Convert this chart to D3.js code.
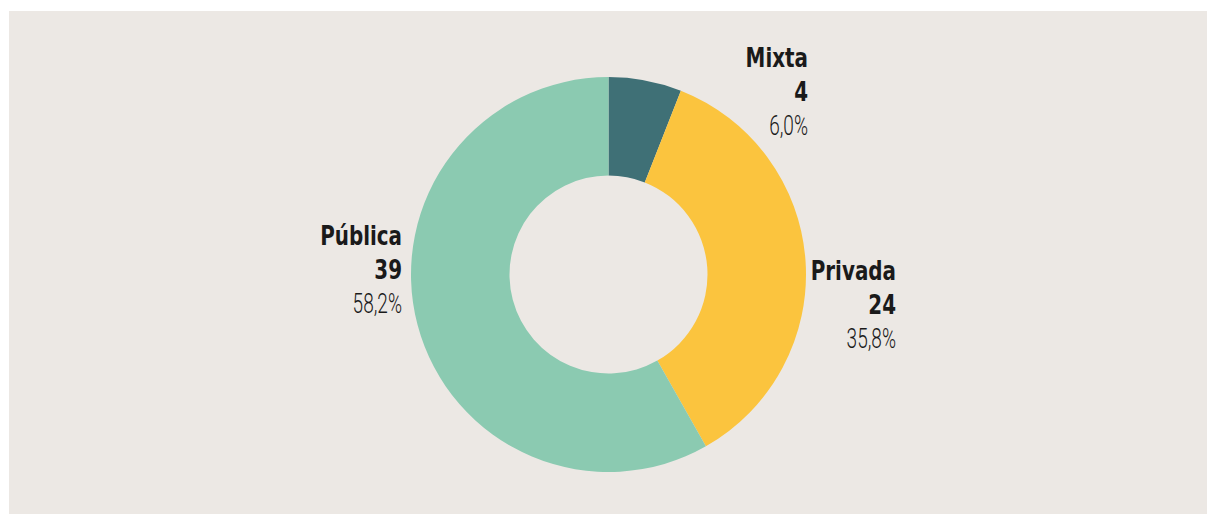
<!DOCTYPE html>
<html>
<head>
<meta charset="utf-8">
<script src="https://cdn.jsdelivr.net/npm/d3@7"></script>
<style>
  body { margin: 0; background: #ffffff; }
  svg { display: block; }
  text { font-family: "DejaVu Sans Condensed", "DejaVu Sans", sans-serif; }
  text.pct { font-family: "Roboto", "DejaVu Sans Condensed", sans-serif; }
</style>
</head>
<body>
<div id="chart"></div>
<script>
// donnees
const categories = ["Mixta", "Privada", "Pública"];
const valeurs = [4, 24, 39];
const pourcentages = ["6,0%", "35,8%", "58,2%"];
const couleurs = ["#3f7076", "#fbc43e", "#8bcab1"];

const W = 1208, H = 514;
const cx = 608.5, cy = 274.5;
const rOut = 197.5, rIn = 99;

const svg = d3.select("#chart").append("svg")
  .attr("width", W).attr("height", H);

// fond
svg.append("rect")
  .attr("x", 9).attr("y", 11)
  .attr("width", W - 10).attr("height", H - 11)
  .attr("fill", "#ece8e4");

const g = svg.append("g").attr("transform", `translate(${cx},${cy})`);

const data = categories.map((c, i) => ({ cat: c, val: valeurs[i], pct: pourcentages[i] }));

const pie = d3.pie().sort(null).value(d => d.val);
const arc = d3.arc().innerRadius(rIn).outerRadius(rOut);
const arcs = pie(data);

g.selectAll("path")
  .data(arcs)
  .join("path")
  .attr("d", arc)
  .attr("fill", (d, i) => couleurs[i]);

// etiquettes : ancrage a droite
function labelPos(d) {
  const a = (d.startAngle + d.endAngle) / 2;
  if (d.index === 0) return [199.5, -207.5];   // Mixta, au-dessus
  if (Math.sin(a) > 0) return [rOut + 90, 5.5]; // Privada
  return [-(rOut + 9), -29.5];                 // Publica
}

const lab = g.selectAll("g.lab")
  .data(arcs)
  .join("g")
  .attr("class", "lab")
  .attr("transform", d => `translate(${labelPos(d)[0]},${labelPos(d)[1]})`)
  .attr("text-anchor", "end")
  .attr("fill", "#1a1a1a");

lab.append("text")
  .attr("transform", "translate(0,0) scale(0.82,1)")
  .style("font-size", "27px")
  .style("font-weight", "bold")
  .text(d => d.data.cat);

lab.append("text")
  .attr("transform", "translate(0,34) scale(0.82,1)")
  .style("font-size", "27px")
  .style("font-weight", "bold")
  .text(d => d.data.val);

lab.append("text")
  .attr("class", "pct")
  .attr("transform", "translate(0,68) scale(0.68,1)")
  .style("font-size", "28px")
  .style("font-weight", "300")
  .attr("fill", "#1a1a1a")
  .text(d => d.data.pct);
</script>
</body>
</html>
